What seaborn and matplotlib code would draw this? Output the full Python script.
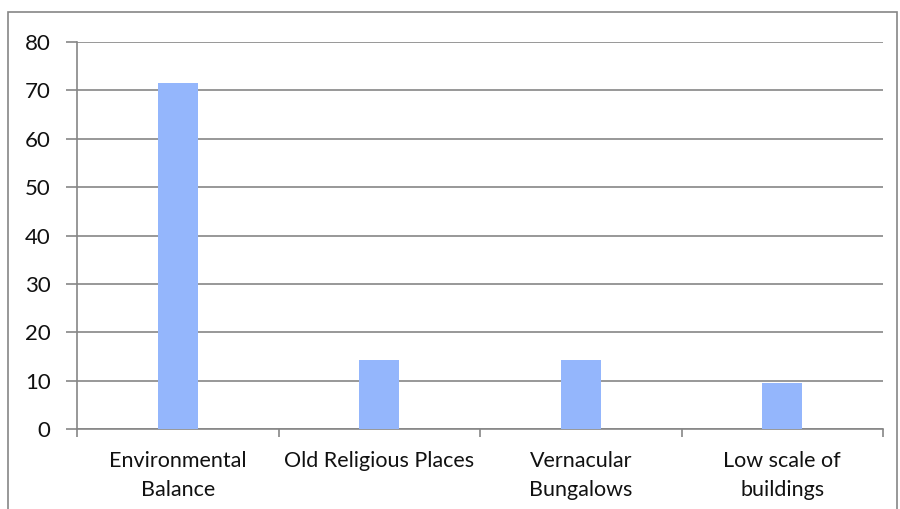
import matplotlib
matplotlib.use("Agg")
import matplotlib.pyplot as plt
import seaborn as sns
import pandas as pd
from matplotlib.patches import Rectangle

categories = ["Environmental\nBalance", "Old Religious Places", "Vernacular\nBungalows", "Low scale of\nbuildings"]
values = [71.43, 14.29, 14.29, 9.52]
y_ticks = [0, 10, 20, 30, 40, 50, 60, 70, 80]

df = pd.DataFrame({"category": categories, "value": values})

sns.set_theme(style="white")
plt.rcParams["font.family"] = ["Lato", "DejaVu Sans"]

fig = plt.figure(figsize=(9.0, 5.09), dpi=100)
ax = fig.add_axes([77 / 900, 1 - 429 / 509, (883 - 77) / 900, (429 - 42) / 509])

grid_color = "#868686"
sns.barplot(data=df, x="category", y="value", color="#94B6FC", saturation=1,
            width=0.2, edgecolor="none", linewidth=0, ax=ax, zorder=3)

ax.set_xlim(-0.5, len(categories) - 0.5)
ax.set_ylim(0, 80)
ax.set_yticks(y_ticks)
ax.set_yticklabels([str(t) for t in y_ticks], fontsize=16, color="#111111")
ax.yaxis.grid(True, color=grid_color, linewidth=1.2, zorder=0)
ax.set_axisbelow(True)

# Category boundary ticks on the x axis
ax.set_xticks([i - 0.5 for i in range(len(categories) + 1)], minor=True)
ax.set_xticks(range(len(categories)))
ax.set_xticklabels(categories, fontsize=15.5, linespacing=1.55, va="top", color="#111111")
ax.tick_params(axis="x", which="major", length=0, pad=16)
ax.tick_params(axis="x", which="minor", length=6, width=1.2, color=grid_color, direction="out", bottom=True)
ax.tick_params(axis="y", length=8, width=1.2, color=grid_color, direction="out", left=True, pad=11)
ax.set_xlabel("")
ax.set_ylabel("")

for side in ["top", "right"]:
    ax.spines[side].set_visible(False)
for side in ["left", "bottom"]:
    ax.spines[side].set_color(grid_color)
    ax.spines[side].set_linewidth(1.2)

# Chart-area frame
fig.patches.append(Rectangle((8 / 900, -0.1), (897 - 8) / 900, 1.1 - 12 / 509,
                             transform=fig.transFigure, fill=False,
                             edgecolor="#868686", linewidth=1.2))

fig.savefig("out.png", dpi=100)
